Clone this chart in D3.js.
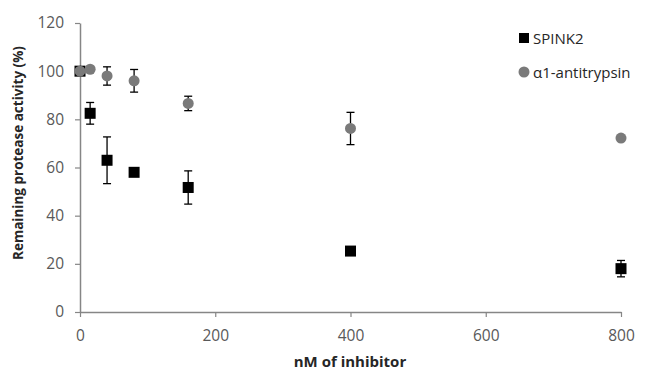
<!DOCTYPE html>
<html>
<head>
<meta charset="utf-8">
<script src="https://cdn.jsdelivr.net/npm/d3@7"></script>
<style>
body { margin: 0; background: #fff; }
text { font-family: "Open Sans", "Liberation Sans", sans-serif; }
</style>
</head>
<body>
<svg id="chart" width="649" height="371"></svg>
<script>
// concentrations (nM) and activity (%)
var conc = [0, 15, 40, 80, 160, 400, 800];
var spink2 = [100, 82.5, 63, 58, 51.7, 25.3, 18];
var spink2Err = [0, 4.5, 9.7, 1.5, 6.9, 0, 3.4];
var aat = [100, 100.8, 98, 96, 86.6, 76.2, 72.2];
var aatErr = [0.5, 0, 3.8, 4.7, 3, 6.7, 0];
var xTicks = [0, 200, 400, 600, 800];
var yTicks = [0, 20, 40, 60, 80, 100, 120];

var svg = d3.select("#chart");
var x = d3.scaleLinear().domain([0, 800]).range([80, 621]);
var y = d3.scaleLinear().domain([0, 120]).range([312, 23]);
var axisCol = "#868686", labCol = "#595959";

var gx = svg.append("g").attr("transform", "translate(0," + y(0) + ")")
	.call(d3.axisBottom(x).tickValues(xTicks).tickSize(5).tickSizeOuter(0).tickPadding(13));
var gy = svg.append("g").attr("transform", "translate(" + x(0) + ",0)")
	.call(d3.axisLeft(y).tickValues(yTicks).tickSize(5).tickSizeOuter(0).tickPadding(11));
[gx, gy].forEach(function (g) {
	g.select(".domain").attr("stroke", axisCol).attr("stroke-width", 1.5);
	g.selectAll(".tick line").attr("stroke", axisCol).attr("stroke-width", 1.2);
	g.selectAll(".tick text").attr("fill", labCol).style("font-size", "15.5px").style("font-family", "'Open Sans', sans-serif");
});

svg.append("text").attr("x", 350).attr("y", 367).attr("text-anchor", "middle")
	.style("font-size", "15px").style("font-weight", "bold").attr("fill", "#262626")
	.text("nM of inhibitor");
svg.append("text").attr("transform", "translate(23,153) rotate(-90)").attr("text-anchor", "middle")
	.style("font-size", "13.5px").style("font-weight", "bold").attr("fill", "#262626")
	.text("Remaining protease activity (%)");

function errBars(vals, errs) {
	var g = svg.append("g").attr("stroke", "#000").attr("stroke-width", 1.3);
	conc.forEach(function (c, i) {
		if (!errs[i]) return;
		var cx = x(c), y1 = y(vals[i] + errs[i]), y2 = y(vals[i] - errs[i]);
		g.append("line").attr("x1", cx).attr("x2", cx).attr("y1", y1).attr("y2", y2);
		g.append("line").attr("x1", cx - 4).attr("x2", cx + 4).attr("y1", y1).attr("y2", y1);
		g.append("line").attr("x1", cx - 4).attr("x2", cx + 4).attr("y1", y2).attr("y2", y2);
	});
}

errBars(spink2, spink2Err);
svg.append("g").selectAll("rect").data(spink2).join("rect")
	.attr("x", function (d, i) { return x(conc[i]) - 5.5; })
	.attr("y", function (d) { return y(d) - 5.5; })
	.attr("width", 11).attr("height", 11).attr("fill", "#000");

errBars(aat, aatErr);
svg.append("g").selectAll("circle").data(aat).join("circle")
	.attr("cx", function (d, i) { return x(conc[i]); })
	.attr("cy", function (d) { return y(d); })
	.attr("r", 5.5).attr("fill", "#7a7a7a");

// legend
var leg = svg.append("g");
leg.append("rect").attr("x", 519).attr("y", 33).attr("width", 10).attr("height", 10).attr("fill", "#000");
leg.append("text").attr("x", 533).attr("y", 44).style("font-size", "15px").attr("fill", "#262626").text("SPINK2");
leg.append("circle").attr("cx", 524).attr("cy", 72).attr("r", 5.5).attr("fill", "#7a7a7a");
leg.append("text").attr("x", 533).attr("y", 78).style("font-size", "15px").attr("fill", "#262626").text("α1-antitrypsin");
</script>
</body>
</html>
